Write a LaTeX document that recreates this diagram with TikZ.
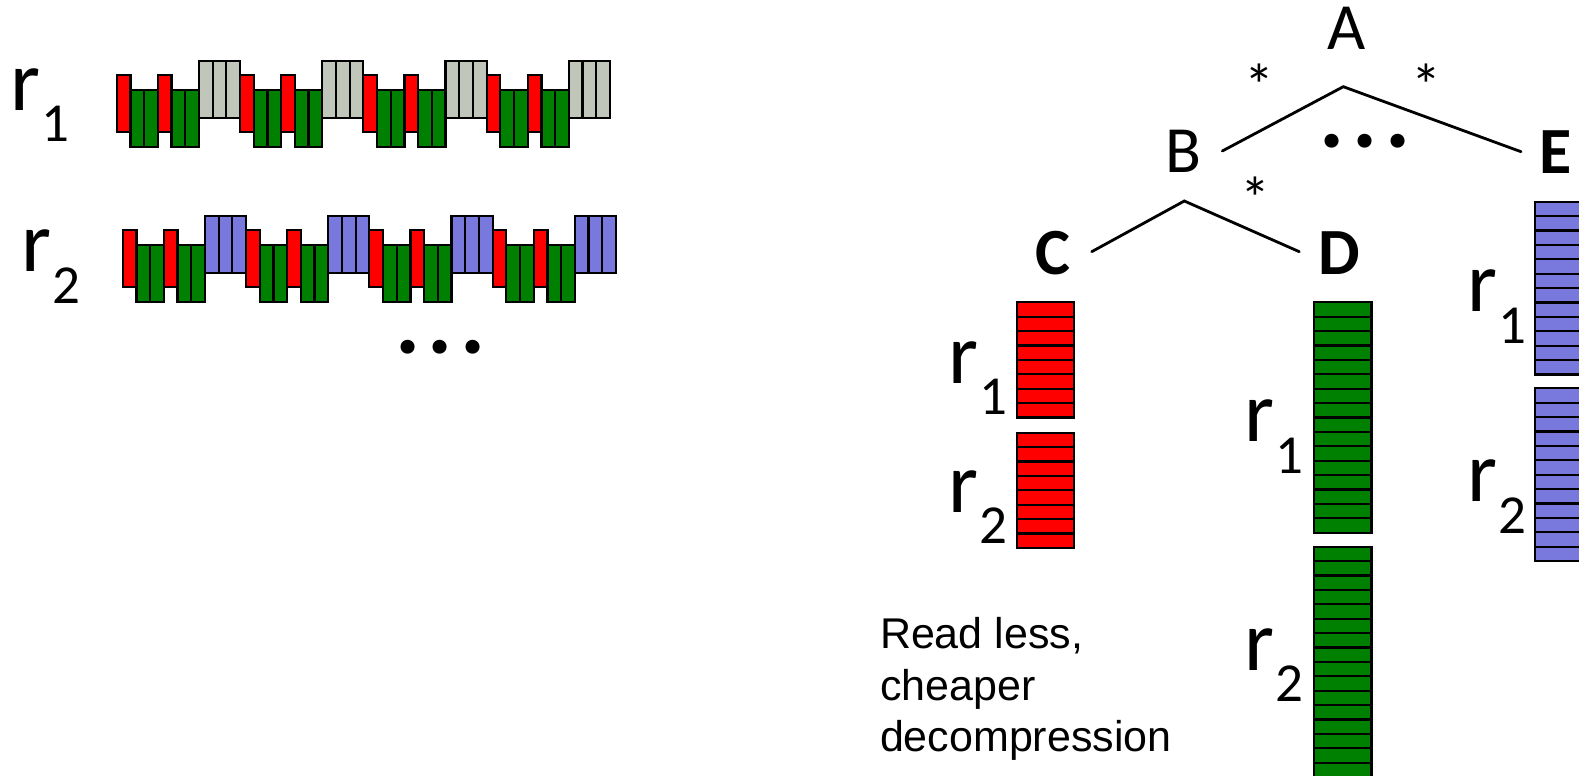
\documentclass[tikz,border=0pt]{standalone}
\usepackage{fontspec}
\setmainfont{Carlito}
\newfontfamily\arialf{Liberation Sans}
\definecolor{cred}{RGB}{255,0,0}
\definecolor{cgreen}{RGB}{0,128,0}
\definecolor{cgray}{RGB}{192,198,186}
\definecolor{cblue}{RGB}{121,121,221}
\newcommand\recrow[3]{%
  \foreach \g in {0,...,3}{%
    \foreach \i/\c/\t in {0/cred/75,1/cgreen/90,2/cgreen/90,3/cred/75,4/cgreen/90,5/cgreen/90,6/#3/60.7,7/#3/60.7,8/#3/60.7}{%
      \draw[cell,fill=\c] ({#1+\g*123.3+\i*13.7},{\t+#2}) rectangle ++(13.7,57);
    }%
  }%
}
\newcommand\colblock[4]{%
  \foreach \k in {1,...,#3}{%
    \draw[cell,fill=#4] (#1,{#2+(\k-1)*14.4}) rectangle ++(57.5,14.4);
  }%
}
\newcommand\rlab[4]{%
  \node[lbl,font=\fontsize{86}{86}\selectfont] (#1) at (#2,#3) {r};
  \node[lbl,font=\fontsize{55}{55}\selectfont] (#1s) at ({#2+31},{#3+31.5}) {#4};
}
\newcommand\threedots{.\hspace{7.9pt}.\hspace{7.9pt}.}
\begin{document}
\begin{tikzpicture}[x=1pt,y=-1pt,
  cell/.style={draw=black,line width=2.2pt},
  edge/.style={line width=2.8pt,line cap=round},
  lbl/.style={inner sep=0pt,outer sep=0pt,anchor=base west},
  letter/.style={inner sep=0pt,outer sep=0pt,anchor=base,font=\fontsize{66}{66}\selectfont},
  star/.style={inner sep=0pt,outer sep=0pt,anchor=base,font=\fontsize{60}{60}\selectfont},
  dots/.style={inner sep=0pt,outer sep=0pt,anchor=base west,font=\bfseries\fontsize{94}{94}\selectfont}]
\useasboundingbox (0,0) rectangle (1579,776);
\clip (0,0) rectangle (1579,776);

% left: row-oriented records
\recrow{116.7}{0}{cgray}
\recrow{122.7}{155.3}{cblue}
\rlab{L1}{10}{110}{1}
\rlab{L2}{21}{271.5}{2}
\node[dots] (dotsL) at (395,353.4) {\threedots};

% tree
\node[letter] (A) at (1346.5,50) {A};
\node[letter] (B) at (1183,172.7) {B};
\node[letter,font=\bfseries\fontsize{66}{66}\selectfont] (E) at (1555.3,173.3) {E};
\node[letter,font=\bfseries\fontsize{66}{66}\selectfont] (C) at (1053,274) {C};
\node[letter,font=\bfseries\fontsize{66}{66}\selectfont] (D) at (1339,274) {D};
\coordinate (jA) at (1343.3,86.7);
\coordinate (eAB) at (1222.3,151);
\coordinate (eAE) at (1521,151.7);
\coordinate (jB) at (1184.3,201);
\coordinate (eBC) at (1091.7,251.7);
\coordinate (eBD) at (1299.3,251.7);
\draw[edge] (eAB) -- (jA) -- (eAE);
\draw[edge] (eBC) -- (jB) -- (eBD);
\node[star] (s1) at (1259,106.5) {*};
\node[star] (s2) at (1426.7,106.5) {*};
\node[star] (s3) at (1255,219.5) {*};
\node[dots] (dotsT) at (1319.5,147.4) {\threedots};

% columns
\colblock{1016.7}{302.3}{8}{cred}
\colblock{1016.7}{432.7}{8}{cred}
\colblock{1314}{302.3}{16}{cgreen}
\colblock{1314}{546.7}{16}{cgreen}
\colblock{1535}{201.7}{12}{cblue}
\colblock{1535}{388.3}{12}{cblue}
\rlab{C1}{948}{383}{1}
\rlab{C2}{948}{512}{2}
\rlab{D1}{1244}{441.5}{1}
\rlab{D2}{1244}{670}{2}
\rlab{E1}{1467}{311.5}{1}
\rlab{E2}{1467}{501.5}{2}

\node[inner sep=0pt,outer sep=0pt,anchor=base west,align=left,
      font=\arialf\fontsize{43}{51.7}\selectfont] (note) at (880,751.7)
  {Read less,\\cheaper\\decompression};
\end{tikzpicture}
\end{document}
